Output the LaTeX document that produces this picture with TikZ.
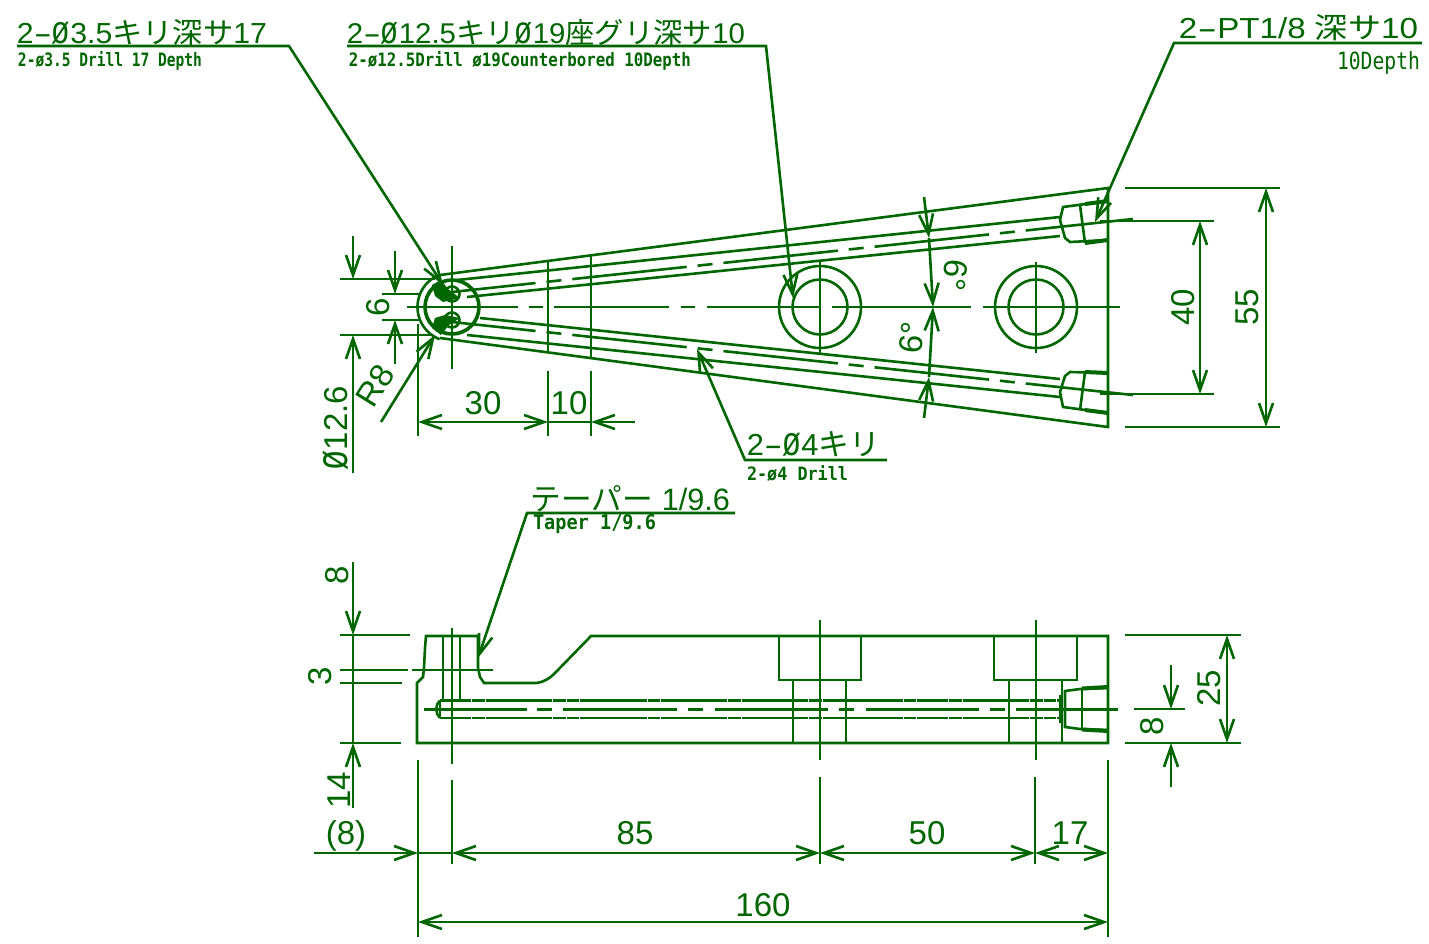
\documentclass[tikz,border=0pt]{standalone}
\usepackage{graphicx}
\usepackage{fontspec}
\usetikzlibrary{arrows.meta}
\setmainfont{Liberation Sans}
\newfontfamily\cjk{Noto Sans CJK JP}
\newfontfamily\smf{DejaVu Sans Mono}
\newcommand{\dsh}{\scalebox{1.8}[1]{-}}
\newcommand{\oo}{\scalebox{1}[1.35]{ø}}
\definecolor{grn}{RGB}{0,102,0}
\tikzset{
  part/.style={draw=grn,line width=2.6pt},
  thick part/.style={draw=grn,line width=4pt},
  ar/.tip={Straight Barb[length=20pt,width=14pt,line width=2.6pt]},
  dimt/.style={font=\fontsize{33}{33}\selectfont,inner sep=0pt,text=grn},
  lbl/.style={inner sep=0pt,text=grn},
  ctr/.style={draw=grn,line width=2.6pt,dash pattern=on 115pt off 11pt on 15pt off 11pt,dash phase=31pt},
  sidehole/.style={draw=grn,line width=2.6pt,dash pattern=on 31pt off 1pt on 13pt off 1pt on 66pt off 1pt on 13pt off 1pt on 12pt off 1pt on 67pt off 1pt on 12pt off 1pt on 66pt off 1pt on 13pt off 1pt on 66pt off 1pt on 13pt off 1pt on 80pt off 1pt on 12pt off 1pt},
}
\begin{document}
\begin{tikzpicture}[x=1pt,y=-1pt]
\fill[white,use as bounding box] (0,0) rectangle (1429,943);

% ---------- texts
\node[lbl] (t1) at (142,33) {\resizebox{250pt}{24pt}{2\dsh\oo 3.5{\cjk キリ深サ}17}};
\node[lbl] (t1b) at (110,60.5) {\resizebox{184pt}{15pt}{\smf\bfseries 2-ø3.5 Drill 17 Depth}};
\node[lbl] (t2) at (546,33) {\resizebox{398pt}{24pt}{2\dsh\oo 12.5{\cjk キリ}\oo 19{\cjk 座グリ深サ}10}};
\node[lbl] (t2b) at (520,60.5) {\resizebox{342pt}{15pt}{\smf\bfseries 2-ø12.5Drill ø19Counterbored 10Depth}};
\node[lbl] (t3) at (1298.5,27.5) {\resizebox{239pt}{24pt}{2\dsh PT1/8 {\cjk 深サ}10}};
\node[lbl] (t3b) at (1378.5,62.5) {\resizebox{83pt}{18pt}{\smf 10Depth}};
\node[lbl] (t4) at (813.5,444) {\resizebox{133pt}{24pt}{2\dsh\oo 4{\cjk キリ}}};
\node[lbl] (t4b) at (797.5,474) {\resizebox{101pt}{15pt}{\smf\bfseries 2-ø4 Drill}};
\node[lbl] (t5) at (630.5,498.5) {\resizebox{199pt}{25pt}{{\cjk テーパー} 1/9.6}};
\node[lbl] (t5b) at (594.5,524) {\resizebox{123pt}{15pt}{\smf\bfseries Taper 1/9.6}};

\node[dimt,rotate=90] (d1) at (336,428) {\oo 12.6};
\node[dimt,rotate=90] (d2) at (378,307) {6};
\node[dimt,rotate=58] (d3) at (375,386) {R8};
\node[dimt] (d4) at (483,403) {30};
\node[dimt] (d5) at (569,403) {10};
\node[dimt,rotate=90] (d6) at (1183,307) {40};
\node[dimt,rotate=90] (d7) at (1247,307) {55};
\node[dimt,rotate=-96] (d8) at (955,275) {6°};
\node[dimt,rotate=84] (d9) at (912,338) {6°};
\node[dimt,rotate=90] (d10) at (337,575) {8};
\node[dimt,rotate=90] (d11) at (320,676) {3};
\node[dimt,rotate=90] (d12) at (339,790) {14};
\node[dimt,rotate=90] (d13) at (1209,688) {25};
\node[dimt,rotate=90] (d14) at (1152,726) {8};
\node[dimt] (d15) at (346,836) {(8)};
\node[dimt] (d16) at (635,833) {85};
\node[dimt] (d17) at (927,833) {50};
\node[dimt] (d18) at (1070,833) {17};
\node[dimt] (d19) at (763,905) {160};

% ---------- top view: outline
\draw[part] (440,275) -- (1108,188) -- (1108,427) -- (440,338);
\draw[part] plot[domain=111:249,samples=40] ({452+34.5*cos(\x)},{307-34.5*sin(\x)});
\draw[part,line width=3.6pt] (452,307) circle[radius=27pt];
\draw[part] (452,294) circle[radius=7.5pt];
\draw[part] (452,320) circle[radius=7.5pt];
\fill[grn] (432,285) -- (441,280) -- (448,289) -- (460,298) -- (443,302) -- (435,296) -- cycle;
\fill[grn] (432,328) -- (435,318) -- (445,315) -- (460,318) -- (449,325) -- (441,335) -- cycle;
\draw[part] (548,260) -- (548,353);
\draw[part] (591,254) -- (591,358);
% oil holes
\draw[part] (457,280) -- (1060,217);
\draw[part] (467,297) -- (1060,236);
\draw[part] (480,318) -- (1060,379);
\draw[part] (467,335) -- (1060,397);
\draw[ctr] (452,292) -- (1133,219);
\draw[ctr] (452,322) -- (1133,395);
% ports
\draw[part] (1108,201) -- (1063,207) -- (1060,220) -- (1065,238) -- (1070,242) -- (1108,240);
\draw[thick part] (1085,204) -- (1108,201);
\draw[thick part] (1085,243) -- (1108,240);
\draw[part] (1080,205) -- (1085,243);
\draw[part] (1108,413) -- (1063,407) -- (1060,392) -- (1065,376) -- (1070,372) -- (1108,373);
\draw[thick part] (1085,410) -- (1108,413);
\draw[thick part] (1085,372) -- (1108,373);
\draw[part] (1085,372) -- (1080,410);
% counterbores
\draw[part] (820,307) circle[radius=41pt];
\draw[part] (820,307) circle[radius=27.5pt];
\draw[part] (1036,307) circle[radius=41pt];
\draw[part] (1036,307) circle[radius=27.5pt];
% centre lines
\draw[part] (407,307) -- (518,307);
\draw[part] (529,307) -- (543,307);
\draw[part] (554,307) -- (669,307);
\draw[part] (681,307) -- (695,307);
\draw[part] (707,307) -- (820,307);
\draw[part] (832,307) -- (971,307);
\draw[part] (983,307) -- (1120,307);
\draw[part] (452,246) -- (452,369);
\draw[part] (820,262) -- (820,353);
\draw[part] (1036,262) -- (1036,353);

% ---------- top view: dimensions
\draw[part,-ar] (353,236) -- (353,279);
\draw[part,-ar] (353,473) -- (353,335);
\draw[part] (340,279) -- (435,279);
\draw[part] (340,335) -- (432,335);
\draw[part,-ar] (395,251) -- (395,294);
\draw[part,-ar] (395,364) -- (395,320);
\draw[part] (382,294) -- (420,294);
\draw[part] (382,320) -- (420,320);
\draw[part,-ar] (381,422) -- (435,335);
\draw[part] (418,324) -- (418,436);
\draw[part] (548,371) -- (548,436);
\draw[part] (591,371) -- (591,436);
\draw[part,ar-ar] (418,422) -- (548,422);
\draw[part,-ar] (635,422) -- (591,422);
\draw[part] (548,422) -- (591,422);
\draw[part] (1125,188) -- (1280,188);
\draw[part] (1125,427) -- (1280,427);
\draw[part] (1100,221) -- (1214,221);
\draw[part] (1100,394) -- (1214,394);
\draw[part,ar-ar] (1200,221) -- (1200,394);
\draw[part,ar-ar] (1266,188) -- (1266,427);
\draw[part,-ar] (924,197) -- (929,238);
\draw[part,-ar] (929,238) -- (933,307);
\draw[part,-ar] (924,418) -- (929,377);
\draw[part,-ar] (929,377) -- (933,307);

% ---------- leaders
\draw[part,-ar] (17,46) -- (289,46) -- (443,285);
\draw[part,-ar] (347,46) -- (766,46) -- (793,298);
\draw[part,-ar] (1422,43) -- (1174,43) -- (1095,222);
\draw[part,-ar] (887,460) -- (745,460) -- (697,349);
\draw[part,-ar] (735,513) -- (527,513) -- (478,658);

% ---------- side view: outline
\draw[part] (478,636) -- (426,636) -- (425,648) -- (424,668) -- (423,677) -- (417,683) -- (417,743) -- (1108,743) -- (1108,636) -- (591,636) -- (555,673) .. controls (549,679) and (544,682) .. (536,683) -- (484,683) -- (480,677) -- (478,668) -- cycle;
\draw[part] (443,636) -- (443,700);
\draw[part] (460,636) -- (460,700);
\draw[part] (452,628) -- (452,764);
% counterbores, side
\draw[part] (779,636) -- (779,680) -- (861,680) -- (861,636);
\draw[part] (994,636) -- (994,680) -- (1077,680) -- (1077,636);
\draw[part] (793,680) -- (793,743);
\draw[part] (846,680) -- (846,743);
\draw[part] (1009,680) -- (1009,743);
\draw[part] (1062,680) -- (1062,743);
\draw[part] (820,620) -- (820,760);
\draw[part] (1036,620) -- (1036,760);
% oil hole, side
\draw[sidehole] (440,700.5) -- (1062,700.5);
\draw[sidehole] (440,718) -- (1062,718);
\draw[part] (440,700.5) -- (440,718);
\draw[part] (440,700.5) .. controls (435,704) and (435,714) .. (440,718);
\draw[part] (424,709.5) -- (527,709.5);
\draw[part] (537,709.5) -- (552,709.5);
\draw[part] (563,709.5) -- (677,709.5);
\draw[part] (688,709.5) -- (703,709.5);
\draw[part] (715,709.5) -- (828,709.5);
\draw[part] (839,709.5) -- (854,709.5);
\draw[part] (866,709.5) -- (979,709.5);
\draw[part] (990,709.5) -- (1005,709.5);
\draw[part] (1016,709.5) -- (1118,709.5);
% port, side
\draw[part] (1108,688) -- (1080,689) -- (1065,691) -- (1065,727) -- (1080,729) -- (1108,730);
\draw[thick part] (1082,688.5) -- (1108,687);
\draw[thick part] (1082,729.5) -- (1108,731);
\draw[part] (1082,689) -- (1082,729);
\draw[part] (1060,695) -- (1060,723);

% ---------- side view: dimensions
\draw[part] (340,635) -- (410,635);
\draw[part] (340,670) -- (408,670);
\draw[part] (412,670) -- (493,670);
\draw[part] (340,683) -- (402,683);
\draw[part] (340,743) -- (401,743);
\draw[part,-ar] (353,562) -- (353,635);
\draw[part] (353,635) -- (353,743);
\draw[part,-ar] (353,808) -- (353,743);
\draw[part] (1125,635) -- (1241,635);
\draw[part] (1125,743) -- (1241,743);
\draw[part,ar-ar] (1227,635) -- (1227,743);
\draw[part] (1134,709) -- (1185,709);
\draw[part,-ar] (1171,665) -- (1171,709);
\draw[part,-ar] (1171,787) -- (1171,743);
\draw[part] (418,760) -- (418,937);
\draw[part] (1108,760) -- (1108,937);
\draw[part] (452,780) -- (452,864);
\draw[part] (820,777) -- (820,864);
\draw[part] (1035,777) -- (1035,864);
\draw[part,-ar] (314,853) -- (418,853);
\draw[part] (418,853) -- (452,853);
\draw[part,ar-ar] (452,853) -- (820,853);
\draw[part,ar-ar] (820,853) -- (1035,853);
\draw[part,ar-ar] (1035,853) -- (1108,853);
\draw[part,ar-ar] (418,922) -- (1108,922);
\end{tikzpicture}
\end{document}
